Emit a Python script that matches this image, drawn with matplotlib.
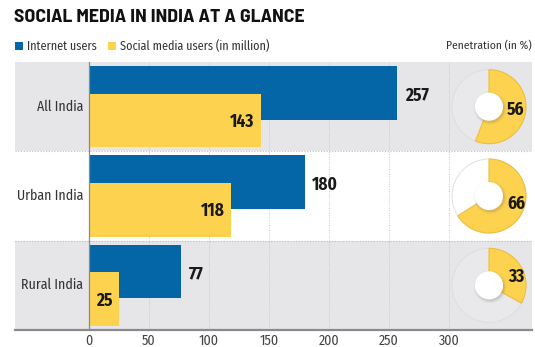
import matplotlib
matplotlib.use("Agg")
import matplotlib.pyplot as plt
from matplotlib.patches import Circle, Wedge, Rectangle
import numpy as np

BODY_FONT = ['Fira Sans Condensed', 'Asap Condensed', 'Barlow Semi Condensed', 'DejaVu Sans']
TITLE_FONT = ['Barlow Semi Condensed', 'IBM Plex Sans Condensed', 'DejaVu Sans']
plt.rcParams['font.family'] = BODY_FONT

categories = ["All India", "Urban India", "Rural India"]
internet_users = [257, 180, 77]
social_users = [143, 118, 25]
penetration = [56, 66, 33]
xticks = [0, 50, 100, 150, 200, 250, 300]

BLUE = "#0466a6"
YELLOW = "#fdd24f"
BAND = "#e6e6e8"
TXT = "#1a1a1a"

W, H = 535, 347
fig = plt.figure(figsize=(W / 100, H / 100), dpi=100)
fig.patch.set_facecolor("white")

# main bar axes (pixel geometry)
left_px, right_px, top_px, bot_px = 15, 532, 62, 330
ax = fig.add_axes([left_px / W, 1 - bot_px / H, (right_px - left_px) / W, (bot_px - top_px) / H])
zero_px = 89
px_per_unit = 1.2
xmin = -(zero_px - left_px) / px_per_unit
xmax = (right_px - zero_px) / px_per_unit
ax.set_xlim(xmin, xmax)
ax.set_ylim(2.5, -0.5)
for s in ax.spines.values():
    s.set_visible(False)
ax.set_facecolor("white")

# alternating row bands
for i in range(len(categories)):
    if i % 2 == 0:
        ax.add_patch(Rectangle((xmin, i - 0.5), xmax - xmin, 1, facecolor=BAND, edgecolor="none", zorder=0))

# grid
for t in xticks[1:]:
    ax.axvline(t, color="#c8c8cc", lw=0.7, ls=(0, (1, 1.5)), zorder=1)
for yb in [0.5, 1.5]:
    ax.axhline(yb, color="#c0c0c4", lw=0.8, ls=(0, (1, 1.5)), zorder=1)
ax.axvline(0, color="#8a8a8a", lw=0.9, zorder=4)
ax.axhline(2.5, color="#8a8a8a", lw=1.6, zorder=4, clip_on=False)

y = np.arange(len(categories))
bh = 0.6
ax.barh(y - 0.155, internet_users, height=bh, color=BLUE, zorder=2)
ax.barh(y + 0.155, social_users, height=bh, color=YELLOW, zorder=3)

for i, (iu, su) in enumerate(zip(internet_users, social_users)):
    ax.text(iu + 6, i - 0.12, f"{iu}", ha="left", va="center", fontsize=12.5,
            fontweight="bold", color=TXT, zorder=5)
    ax.text(su - 5, i + 0.17, f"{su}", ha="right", va="center", fontsize=12.5,
            fontweight="bold", color=TXT, zorder=5)
    ax.text(-5, i, categories[i], ha="right", va="center", fontsize=10, color="#333333", zorder=5)

ax.set_yticks([])
ax.set_xticks(xticks)
ax.set_xticklabels([str(t) for t in xticks], fontsize=10, color="#444444")
ax.tick_params(axis="x", length=0, pad=3)

# title and legend
fig.text(14 / W, 1 - 18 / H, "SOCIAL MEDIA IN INDIA AT A GLANCE", fontsize=14.3,
         fontweight="bold", color="#111111", ha="left", va="center", family=TITLE_FONT)
ly = 1 - 46 / H
fig.patches.append(Rectangle((15 / W, ly - 4 / H), 8 / W, 8 / H, transform=fig.transFigure,
                             facecolor=BLUE, edgecolor="none"))
fig.text(27 / W, ly, "Internet users", fontsize=8.7, color="#333333", ha="left", va="center")
fig.patches.append(Rectangle((108 / W, ly - 4 / H), 8 / W, 8 / H, transform=fig.transFigure,
                             facecolor=YELLOW, edgecolor="none"))
fig.text(120 / W, ly, "Social media users (in million)", fontsize=8.7, color="#333333",
         ha="left", va="center")
fig.text(532 / W, ly, "Penetration (in %)", fontsize=8.3, color="#333333", ha="right", va="center")

# penetration donuts
band_px = (bot_px - top_px) / 3
cx_px = 489
R = 37
size = 2 * R + 8
for i, p in enumerate(penetration):
    cy_px = top_px + band_px * (i + 0.5)
    pax = fig.add_axes([(cx_px - size / 2) / W, 1 - (cy_px + size / 2) / H, size / W, size / H])
    lim = size / 2 / R
    pax.set_xlim(-lim, lim)
    pax.set_ylim(-lim, lim)
    pax.set_aspect("equal")
    pax.axis("off")
    pax.add_patch(Circle((0, 0), 1.0, facecolor="white", alpha=0.15, edgecolor="none"))
    pax.add_patch(Circle((0, 0), 1.0, facecolor="none", edgecolor="#dcdcdc", lw=0.6))
    theta1 = 90 - 360 * p / 100
    pax.add_patch(Wedge((0, 0), 1.0, theta1, 90, facecolor=YELLOW, edgecolor="#edbf3e", lw=0.8))
    # shadowed centre hole
    for k, a in enumerate([0.06, 0.08, 0.1]):
        pax.add_patch(Circle((0.03, -0.04), 0.44 - 0.03 * k, facecolor="#555555", alpha=a,
                             edgecolor="none"))
    pax.add_patch(Circle((0, 0), 0.38, facecolor="white", edgecolor="none"))
    mid = np.deg2rad(360 * p / 100 / 2)
    pax.text(0.73, 0.45 * np.cos(mid), f"{p}", ha="center", va="center", fontsize=12.5,
             fontweight="bold", color=TXT)

fig.savefig("out.png", dpi=100, facecolor="white")
